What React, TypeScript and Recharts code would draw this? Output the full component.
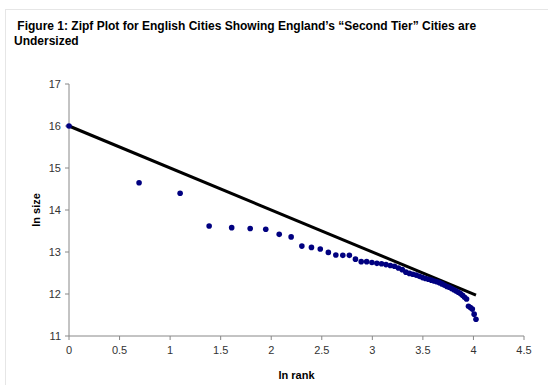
import React from "react";
import { ScatterChart, Scatter, XAxis, YAxis, Label } from "recharts";

// ln rank of each city (rank 1..56)
const lnRank = [
  0, 0.693, 1.099, 1.386, 1.609, 1.792, 1.946, 2.079, 2.197, 2.303,
  2.398, 2.485, 2.565, 2.639, 2.708, 2.773, 2.833, 2.89, 2.944, 2.996,
  3.045, 3.091, 3.135, 3.178, 3.219, 3.258, 3.296, 3.332, 3.367, 3.401,
  3.434, 3.466, 3.497, 3.526, 3.555, 3.584, 3.611, 3.638, 3.664, 3.689,
  3.714, 3.738, 3.761, 3.784, 3.807, 3.829, 3.85, 3.871, 3.892, 3.912,
  3.932, 3.951, 3.97, 3.989, 4.007, 4.025,
];

// ln size
const lnSize = [
  16.0, 14.65, 14.4, 13.62, 13.58, 13.56, 13.54, 13.42, 13.36, 13.14,
  13.11, 13.07, 12.99, 12.93, 12.92, 12.92, 12.83, 12.77, 12.77, 12.75,
  12.73, 12.72, 12.7, 12.68, 12.66, 12.62, 12.58, 12.52, 12.49, 12.47,
  12.45, 12.42, 12.39, 12.37, 12.35, 12.33, 12.31, 12.29, 12.27, 12.24,
  12.21, 12.18, 12.16, 12.13, 12.1, 12.07, 12.04, 12.01, 11.97, 11.92,
  11.88, 11.71, 11.68, 11.64, 11.52, 11.4,
];

// Zipf reference line end points
const lineX = [0, 4.025];
const lineY = [16.0, 11.975];

const xTicks = [0, 0.5, 1, 1.5, 2, 2.5, 3, 3.5, 4, 4.5];
const yTicks = [11, 12, 13, 14, 15, 16, 17];

const cities = lnRank.map((x, i) => ({ x, y: lnSize[i] }));
const zipfLine = lineX.map((x, i) => ({ x, y: lineY[i] }));

const font = "'Liberation Sans', Arial, sans-serif";
const tickStyle = { fontSize: 11, fill: "#333", fontFamily: font };

export default function App() {
  return (
    <div style={{ position: "fixed", left: 0, top: 0, width: 548, height: 385, background: "#fff", overflow: "hidden" }}>
      <div
        style={{
          position: "absolute", left: 5, top: 9, width: 600, height: 420,
          border: "1px solid #e6e6e6", boxSizing: "border-box",
        }}
      />
      <div
        style={{
          position: "absolute", left: 14, top: 19, width: 500,
          fontFamily: font, fontWeight: "bold", fontSize: 12, lineHeight: "15px", color: "#000",
        }}
      >
        &nbsp;Figure 1: Zipf Plot for English Cities Showing England’s “Second Tier” Cities are
        <br />
        Undersized
      </div>

      <div style={{ position: "absolute", left: 0, top: 0 }}>
        <ScatterChart width={548} height={385} margin={{ top: 84, right: 24, bottom: 19, left: 29 }}>
          <XAxis
            type="number"
            dataKey="x"
            domain={[0, 4.5]}
            ticks={xTicks}
            interval={0}
            stroke="#888"
            tickSize={4}
            tickMargin={6}
            height={30}
            tick={tickStyle}
          >
            <Label
              value="ln rank"
              position="bottom"
              offset={5}
              style={{ fontSize: 11, fontWeight: "bold", fill: "#000", fontFamily: font }}
            />
          </XAxis>
          <YAxis
            type="number"
            dataKey="y"
            domain={[11, 17]}
            ticks={yTicks}
            interval={0}
            stroke="#888"
            tickSize={4}
            tickMargin={4}
            width={40}
            tick={tickStyle}
          >
            <Label
              value="ln size"
              angle={-90}
              position="insideLeft"
              offset={7}
              style={{ fontSize: 11, fontWeight: "bold", fill: "#000", fontFamily: font, textAnchor: "middle" }}
            />
          </YAxis>
          <Scatter
            data={zipfLine}
            line={{ stroke: "#000", strokeWidth: 3 }}
            shape={() => null}
            isAnimationActive={false}
          />
          <Scatter
            data={cities}
            fill="#000080"
            shape={(p: any) => <circle cx={p.cx} cy={p.cy} r={2.8} fill="#000080" />}
            isAnimationActive={false}
          />
        </ScatterChart>
      </div>
    </div>
  );
}
